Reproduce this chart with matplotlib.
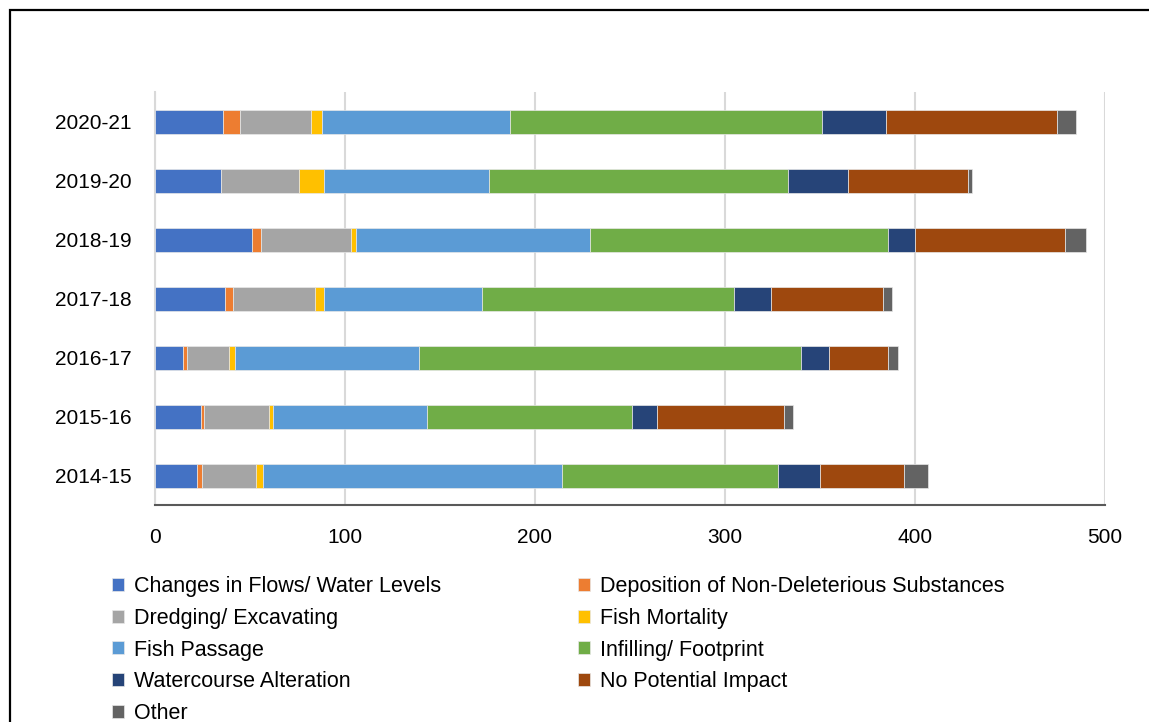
import numpy as np
import matplotlib
matplotlib.use('Agg')
import matplotlib.pyplot as plt
from matplotlib.patches import Rectangle

matplotlib.rcParams['font.family'] = ['Liberation Sans', 'DejaVu Sans']

years = ['2014-15', '2015-16', '2016-17', '2017-18', '2018-19', '2019-20', '2020-21']

changes_flows = [22, 24, 15, 37, 51, 35, 36]
deposition = [3, 2, 2, 4, 5, 0, 9]
dredging = [28, 34, 22, 43, 47, 41, 37]
fish_mortality = [4, 2, 3, 5, 3, 13, 6]
fish_passage = [157, 81, 97, 83, 123, 87, 99]
infilling = [114, 108, 201, 133, 157, 157, 164]
watercourse = [22, 13, 15, 19, 14, 32, 34]
no_impact = [44, 67, 31, 59, 79, 63, 90]
other = [13, 5, 5, 5, 11, 2, 10]

series_names = ['Changes in Flows/ Water Levels',
                'Deposition of Non-Deleterious Substances',
                'Dredging/ Excavating',
                'Fish Mortality',
                'Fish Passage',
                'Infilling/ Footprint',
                'Watercourse Alteration',
                'No Potential Impact',
                'Other']
series_values = [changes_flows, deposition, dredging, fish_mortality,
                 fish_passage, infilling, watercourse, no_impact, other]
colors = ['#4472C4', '#ED7D31', '#A5A5A5', '#FFC000', '#5B9BD5',
          '#70AD47', '#264478', '#9E480E', '#636363']

x_ticks = [0, 100, 200, 300, 400, 500]


def main():
    fig = plt.figure(figsize=(11.49, 7.22), dpi=100)
    ax = fig.add_axes([0.1349, 0.2999, 0.8268, 0.572])

    y = np.arange(len(years))
    left = np.zeros(len(years))
    handles = []
    for name, vals, c in zip(series_names, series_values, colors):
        vals = np.array(vals, dtype=float)
        b = ax.barh(y, vals, left=left, height=0.4, color=c,
                    edgecolor='#e8e8e8', linewidth=0.5, label=name, zorder=3)
        handles.append(b)
        left += vals

    ax.set_xlim(0, 500)
    ax.set_ylim(-0.5, len(years) - 0.5)
    ax.set_xticks(x_ticks)
    ax.set_xticklabels([str(t) for t in x_ticks])
    ax.set_yticks(y)
    ax.set_yticklabels(years)
    ax.tick_params(axis='both', length=0, labelsize=15)
    ax.tick_params(axis='y', pad=17)
    ax.tick_params(axis='x', pad=16)
    ax.grid(axis='x', color='#d9d9d9', linewidth=1.5, zorder=0)
    ax.set_axisbelow(True)
    for s in ['top', 'right']:
        ax.spines[s].set_visible(False)
    ax.spines['left'].set_color('#d9d9d9')
    ax.spines['left'].set_linewidth(1.5)
    ax.spines['bottom'].set_color('#595959')
    ax.spines['bottom'].set_linewidth(1.5)

    # row-wise legend order for 2 columns
    order = [0, 2, 4, 6, 8, 1, 3, 5, 7]
    fig.legend([handles[i] for i in order], [series_names[i] for i in order],
               loc='upper left', bbox_to_anchor=(112 / 1149, 1 - 576 / 722),
               ncol=2, frameon=False, fontsize=15.5, handlelength=0.55,
               handleheight=0.55, handletextpad=0.45, labelspacing=0.5,
               columnspacing=6.4, borderaxespad=0, borderpad=0)

    # chart border
    fig.add_artist(Rectangle((10 / 1149, -0.1), 1.2, 1.1 - 10 / 722,
                             transform=fig.transFigure, fill=False,
                             edgecolor='black', linewidth=1.6, clip_on=False))

    plt.savefig('out.png', dpi=100)


if __name__ == "__main__":
    main()
